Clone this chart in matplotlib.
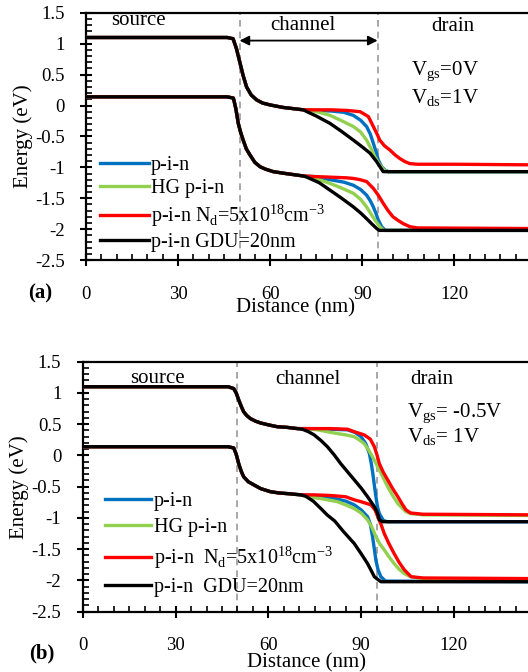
import numpy as np
import matplotlib
matplotlib.use('Agg')
import matplotlib.pyplot as plt
from matplotlib.ticker import MultipleLocator

plt.rcParams['font.family'] = ['Liberation Serif', 'DejaVu Serif']
plt.rcParams['mathtext.fontset'] = 'custom'
plt.rcParams['mathtext.rm'] = 'Liberation Serif'

# ---- panel (a): Vgs = 0 V, Vds = 1 V ----
# shared source side of the conduction band
a_cb_head_x = [0, 46, 47.9, 49, 50.2, 51.2, 52.3, 53.8, 55.6, 57.5, 59.9, 64, 70.8]
a_cb_head_e = [1.1, 1.1, 1.08, 0.92, 0.68, 0.48, 0.30, 0.17, 0.09, 0.04, 0.01, -0.03, -0.07]

a_cb_blue_x = [75, 80, 84, 87.1, 89.5, 91.4, 92.6, 93.6, 94.5, 95.2, 96.3, 97.5, 98.5, 145]
a_cb_blue_e = [-0.08, -0.09, -0.11, -0.16, -0.24, -0.34, -0.46, -0.61, -0.75, -0.88, -0.99, -1.05, -1.07, -1.07]
a_cb_green_x = [73, 76, 79.5, 83, 87.1, 89.5, 91.4, 92.8, 94.1, 95.7, 97, 98, 145]
a_cb_green_e = [-0.08, -0.11, -0.16, -0.24, -0.34, -0.43, -0.56, -0.69, -0.83, -0.96, -1.04, -1.07, -1.07]
a_cb_red_x = [75, 80, 85, 89.3, 92, 93.6, 94.8, 95.7, 97.2, 99, 100.7, 102.3, 104, 105.5, 108, 120, 145]
a_cb_red_e = [-0.07, -0.07, -0.08, -0.10, -0.18, -0.34, -0.46, -0.56, -0.65, -0.72, -0.80, -0.86, -0.91, -0.94, -0.95, -0.95, -0.96]
a_cb_black_x = [72, 75, 79.5, 83, 87.1, 90, 92.5, 94.7, 95.5, 96.8, 145]
a_cb_black_e = [-0.10, -0.17, -0.29, -0.41, -0.56, -0.67, -0.77, -0.91, -0.97, -1.07, -1.07]

a_vb_head_x = [0, 46, 48, 48.8, 49.6, 50.4, 51.2, 52.2, 53.4, 55, 56.7, 58.5, 61, 65, 70.8]
a_vb_head_e = [0.14, 0.14, 0.12, -0.05, -0.29, -0.44, -0.56, -0.70, -0.80, -0.92, -0.99, -1.03, -1.07, -1.10, -1.14]

a_vb_blue_x = [74, 79.5, 84, 87.1, 89.5, 91.4, 92.6, 93.6, 94.5, 95.2, 96.3, 97.5, 145]
a_vb_blue_e = [-1.15, -1.20, -1.24, -1.29, -1.36, -1.45, -1.54, -1.64, -1.75, -1.85, -1.96, -2.02, -2.02]
a_vb_green_x = [73, 76, 79.5, 83, 87.1, 89.5, 91.4, 92.8, 94.1, 95.7, 97, 145]
a_vb_green_e = [-1.16, -1.20, -1.26, -1.33, -1.42, -1.52, -1.64, -1.75, -1.85, -1.96, -2.02, -2.02]
a_vb_red_x = [75, 80, 85, 87.1, 89.3, 91.4, 93.6, 95.2, 96.8, 98.4, 100, 101.7, 103.3, 105.5, 108, 145]
a_vb_red_e = [-1.15, -1.16, -1.17, -1.18, -1.20, -1.23, -1.34, -1.45, -1.58, -1.70, -1.80, -1.86, -1.91, -1.96, -1.98, -1.99]
a_vb_black_x = [72, 76, 79.5, 83, 87.1, 89.5, 91.4, 93, 94.7, 95.5, 145]
a_vb_black_e = [-1.16, -1.25, -1.37, -1.49, -1.64, -1.74, -1.83, -1.91, -1.99, -2.02, -2.02]

# ---- panel (b): Vgs = -0.5 V, Vds = 1 V ----
b_cb_head_x = [0, 47, 48.8, 49.6, 50.4, 51.2, 52, 53, 54.2, 55.8, 57.5, 60, 62.9, 66, 69.4]
b_cb_head_e = [1.1, 1.1, 1.07, 1.0, 0.89, 0.79, 0.70, 0.64, 0.59, 0.55, 0.52, 0.49, 0.46, 0.45, 0.43]

b_cb_blue_x = [74, 80, 85.6, 88, 90, 91.5, 92.7, 93.3, 93.8, 94.3, 94.8, 95.3, 95.9, 97.2, 98.5, 145]
b_cb_blue_e = [0.43, 0.42, 0.41, 0.37, 0.30, 0.19, 0.03, -0.13, -0.29, -0.48, -0.66, -0.82, -0.93, -1.04, -1.06, -1.06]
b_cb_green_x = [72, 76, 79, 82.4, 85, 87.8, 90, 91, 92.4, 93.7, 95.9, 97.2, 98.6, 100.2, 101.9, 104.5, 106, 110, 145]
b_cb_green_e = [0.43, 0.41, 0.38, 0.35, 0.33, 0.30, 0.23, 0.19, 0.09, -0.02, -0.23, -0.36, -0.50, -0.64, -0.77, -0.90, -0.93, -0.95, -0.96]
b_cb_red_x = [75, 80, 85.6, 87.8, 91, 93, 94.3, 95.2, 95.9, 97.2, 98.6, 100.2, 101.9, 103.2, 104.5, 106, 110, 145]
b_cb_red_e = [0.43, 0.43, 0.42, 0.38, 0.33, 0.26, 0.14, 0.0, -0.13, -0.27, -0.39, -0.53, -0.66, -0.77, -0.87, -0.92, -0.94, -0.95]
b_cb_black_x = [71, 73, 74.8, 77, 79.1, 81.3, 83.4, 85.6, 87.8, 90, 92.1, 94.3, 95.3, 95.9, 97, 145]
b_cb_black_e = [0.42, 0.38, 0.33, 0.24, 0.14, 0.01, -0.13, -0.26, -0.39, -0.52, -0.66, -0.82, -0.92, -1.03, -1.06, -1.06]

b_vb_head_x = [0, 47, 48.8, 49.6, 50.4, 51.2, 52, 53.5, 55.3, 57.5, 60.7, 63.5, 66.1, 70.5]
b_vb_head_e = [0.14, 0.14, 0.12, 0.02, -0.13, -0.25, -0.34, -0.42, -0.47, -0.53, -0.58, -0.60, -0.61, -0.63]

b_vb_blue_x = [74, 80, 85, 87.8, 90, 92.1, 93, 93.7, 94.3, 94.8, 95.5, 96.4, 97.9, 145]
b_vb_blue_e = [-0.64, -0.67, -0.73, -0.79, -0.87, -0.98, -1.10, -1.30, -1.50, -1.68, -1.83, -1.94, -2.01, -2.02]
b_vb_green_x = [72.6, 77, 82.4, 85, 87.8, 90, 92.1, 93.5, 94.8, 96, 97.5, 99, 100.7, 102.3, 104, 106, 110, 145]
b_vb_green_e = [-0.66, -0.69, -0.74, -0.79, -0.85, -0.92, -1.03, -1.15, -1.30, -1.41, -1.51, -1.62, -1.73, -1.82, -1.89, -1.94, -1.97, -1.99]
b_vb_red_x = [75, 80, 85, 87.8, 90, 93.2, 94.5, 95.4, 96.5, 97.5, 99, 100.7, 102.3, 104, 106.2, 110, 145]
b_vb_red_e = [-0.63, -0.64, -0.66, -0.71, -0.74, -0.79, -0.87, -0.98, -1.11, -1.25, -1.41, -1.57, -1.71, -1.83, -1.94, -1.96, -1.97]
b_vb_black_x = [72, 74.5, 77, 79, 81.5, 84, 87.8, 90, 92.1, 94.3, 95.3, 96.4, 145]
b_vb_black_e = [-0.65, -0.73, -0.85, -0.95, -1.05, -1.20, -1.41, -1.57, -1.73, -1.94, -1.98, -2.02, -2.02]

labels_a = ['p-i-n', 'HG p-i-n',
            r'p-i-n N$_\mathregular{d}$=5x10$^\mathregular{18}$cm$^\mathregular{ -3}$',
            'p-i-n GDU=20nm']
labels_b = ['p-i-n', 'HG p-i-n',
            r'p-i-n  N$_\mathregular{d}$=5x10$^\mathregular{18}$cm$^\mathregular{ -3}$',
            'p-i-n  GDU=20nm']
colors = ['#0070C0', '#92D050', '#FF0000', '#000000']


def drawBand(ax, head_x, head_e, tails, withLabels=None):
    for i, (tx, te) in enumerate(tails):
        x = np.concatenate([head_x, tx])
        e = np.concatenate([head_e, te])
        lab = withLabels[i] if withLabels else None
        ax.plot(x, e, color=colors[i], lw=2.4, label=lab, zorder=3 + i)


def styleAxes(ax, xlab_x, xlab_y, ylab_x):
    ax.set_xlim(0, 144)
    ax.set_ylim(-2.5, 1.5)
    ax.xaxis.set_major_locator(MultipleLocator(30))
    ax.xaxis.set_minor_locator(MultipleLocator(5))
    ax.yaxis.set_major_locator(MultipleLocator(0.5))
    ax.yaxis.set_minor_locator(MultipleLocator(0.1))
    ax.yaxis.set_major_formatter(plt.FuncFormatter(lambda v, p: ('%g' % v)))
    ax.tick_params(axis='x', which='major', direction='inout', length=9, width=1.5,
                   pad=14, labelsize=13.5, top=False)
    ax.tick_params(axis='x', which='minor', direction='in', length=4, width=1.2, top=False)
    ax.tick_params(axis='y', which='major', direction='inout', length=9, width=1.5,
                   pad=11, labelsize=13.5, right=False)
    ax.tick_params(axis='y', which='minor', direction='in', length=4, width=1.2, right=False)
    ax.spines['right'].set_visible(False)
    for s in ['left', 'bottom', 'top']:
        ax.spines[s].set_linewidth(1.6)
    ax.axvline(50, color='#999999', ls=(0, (4, 3)), lw=1.2, zorder=1)
    ax.axvline(95, color='#999999', ls=(0, (4, 3)), lw=1.2, zorder=1)
    ax.set_xlabel('Distance (nm)', fontsize=15)
    ax.xaxis.set_label_coords(xlab_x, xlab_y)
    ax.set_ylabel('Energy (eV)', fontsize=15)
    ax.yaxis.set_label_coords(ylab_x, 0.5)


fig = plt.figure(figsize=(5.28, 6.72), dpi=100)
axA = fig.add_axes([0.163, 0.613, 0.837, 0.368])
axB = fig.add_axes([0.157, 0.0897, 0.843, 0.372])

drawBand(axA, a_cb_head_x, a_cb_head_e,
         [(a_cb_blue_x, a_cb_blue_e), (a_cb_green_x, a_cb_green_e),
          (a_cb_red_x, a_cb_red_e), (a_cb_black_x, a_cb_black_e)], labels_a)
drawBand(axA, a_vb_head_x, a_vb_head_e,
         [(a_vb_blue_x, a_vb_blue_e), (a_vb_green_x, a_vb_green_e),
          (a_vb_red_x, a_vb_red_e), (a_vb_black_x, a_vb_black_e)])
drawBand(axB, b_cb_head_x, b_cb_head_e,
         [(b_cb_blue_x, b_cb_blue_e), (b_cb_green_x, b_cb_green_e),
          (b_cb_red_x, b_cb_red_e), (b_cb_black_x, b_cb_black_e)], labels_b)
drawBand(axB, b_vb_head_x, b_vb_head_e,
         [(b_vb_blue_x, b_vb_blue_e), (b_vb_green_x, b_vb_green_e),
          (b_vb_red_x, b_vb_red_e), (b_vb_black_x, b_vb_black_e)])

styleAxes(axA, 0.475, -0.155, -0.12)
styleAxes(axB, 0.503, -0.165, -0.12)

# region names and bias conditions
axA.text(17, 1.38, 'source', fontsize=15, ha='center', va='center')
axA.text(70.7, 1.30, 'channel', fontsize=15, ha='center', va='center')
axA.text(119.5, 1.27, 'drain', fontsize=15, ha='center', va='center')
axA.annotate('', xy=(50, 1.05), xytext=(95, 1.05),
             arrowprops=dict(arrowstyle='<|-|>', color='black', lw=1.3,
                             mutation_scale=14, shrinkA=0, shrinkB=0))
axA.text(106, 0.54, r'V$_\mathregular{gs}$=0V', fontsize=15, va='center')
axA.text(106, 0.12, r'V$_\mathregular{ds}$=1V', fontsize=15, va='center')

axB.text(24, 1.23, 'source', fontsize=15, ha='center', va='center')
axB.text(72.8, 1.22, 'channel', fontsize=15, ha='center', va='center')
axB.text(113, 1.22, 'drain', fontsize=15, ha='center', va='center')
axB.text(105, 0.67, r'V$_\mathregular{gs}$= -0.5V', fontsize=15, va='center')
axB.text(105, 0.30, r'V$_\mathregular{ds}$= 1V', fontsize=15, va='center')

axA.legend(loc='upper left', bbox_to_anchor=(0.032, 0.42), frameon=False, fontsize=14.5,
           borderpad=0, borderaxespad=0, handlelength=2.4, handletextpad=0.1,
           labelspacing=0.2)
axB.legend(loc='upper left', bbox_to_anchor=(0.049, 0.48), frameon=False, fontsize=14.5,
           borderpad=0, borderaxespad=0, handlelength=2.3, handletextpad=0.15,
           labelspacing=0.35)

fig.text(40 / 528, 1 - 293 / 672, '(a)', fontsize=15, fontweight='bold', ha='center', va='center')
fig.text(42 / 528, 1 - 653 / 672, '(b)', fontsize=15, fontweight='bold', ha='center', va='center')

fig.savefig('out.png', dpi=100)
